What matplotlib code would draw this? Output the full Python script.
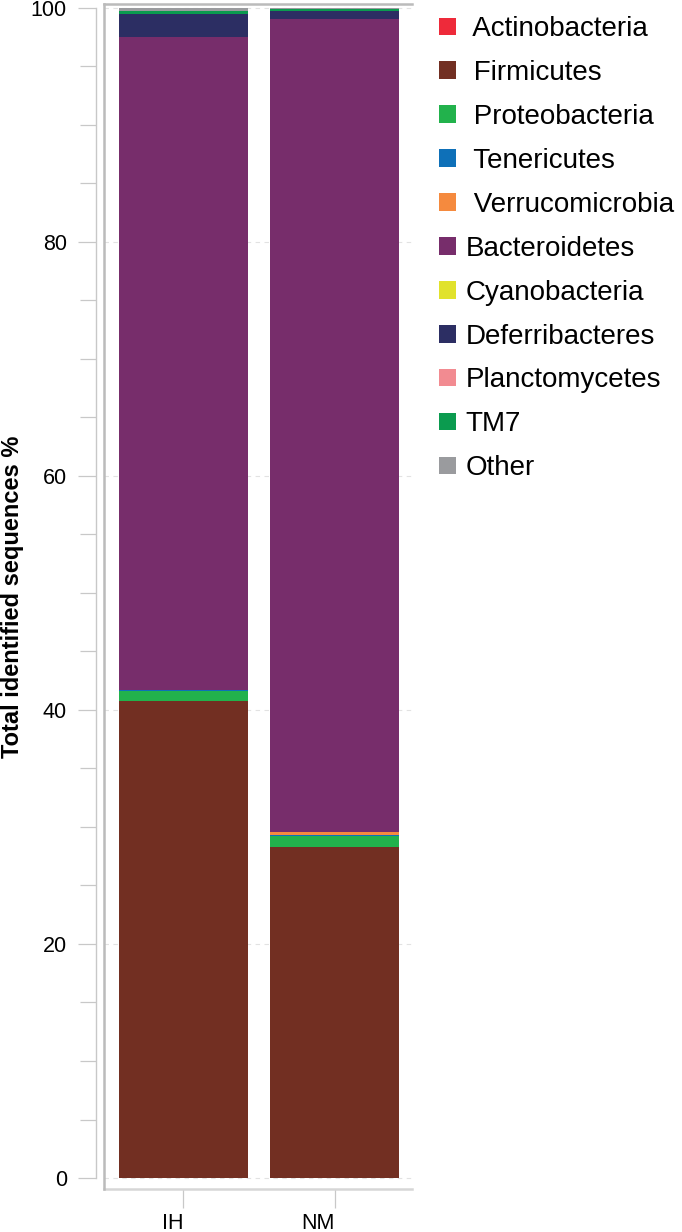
import numpy as np
import matplotlib.pyplot as plt
from matplotlib.ticker import MultipleLocator

plt.rcParams['font.family'] = ['Liberation Sans', 'DejaVu Sans']

# sample groups and phyla (stacking order, bottom to top)
samples = ["IH", "NM"]
phyla = ["Actinobacteria", "Firmicutes", "Proteobacteria", "Tenericutes",
         "Verrucomicrobia", "Bacteroidetes", "Cyanobacteria", "Deferribacteres",
         "Planctomycetes", "TM7", "Other"]
colors = ["#ee2a3a", "#722f22", "#22b24c", "#0e70b8", "#f58a3e", "#772d6b",
          "#e1e22c", "#2c2e63", "#f28b91", "#0b9b4f", "#9a9b9e"]

# relative abundance (%) per phylum, [IH, NM]
actinobacteria = [0.0, 0.0]
firmicutes = [40.8, 28.3]
proteobacteria = [0.85, 0.95]
tenericutes = [0.08, 0.03]
verrucomicrobia = [0.02, 0.25]
bacteroidetes = [55.8, 69.5]
cyanobacteria = [0.0, 0.0]
deferribacteres = [1.92, 0.72]
planctomycetes = [0.0, 0.0]
tm7 = [0.23, 0.14]
other = [0.3, 0.11]

values = [actinobacteria, firmicutes, proteobacteria, tenericutes, verrucomicrobia,
          bacteroidetes, cyanobacteria, deferribacteres, planctomycetes, tm7, other]

W, H = 682, 1232
fig = plt.figure(figsize=(W / 100, H / 100), dpi=100)
ax = fig.add_axes([104 / W, 1 - 1189 / H, (412 - 104) / W, (1189 - 4) / H])

x = np.arange(len(samples))
bottom = np.zeros(len(samples))
handles = []
for name, vals, c in zip(phyla, values, colors):
    b = ax.bar(x, vals, width=0.854, bottom=bottom, color=c, label=name, zorder=3)
    handles.append(b)
    bottom += np.array(vals)

ax.set_xlim(-0.526, 1.513)
ax.set_ylim(-0.94, 100.34)

grey = "#c8c8c8"
# y axis: detached light spine with ticks
ax.spines['left'].set_position(('outward', 5.8))
ax.spines['left'].set_bounds(0, 100)
ax.spines['left'].set_color(grey)
ax.spines['left'].set_linewidth(1.0)
ax.spines['right'].set_visible(False)
ax.spines['top'].set_color("#bbbbbb")
ax.spines['top'].set_linewidth(1.8)
ax.spines['bottom'].set_color("#d6d6d6")
ax.spines['bottom'].set_linewidth(1.8)
# frame line at the left of the plotting area
ax.plot([0, 0], [0, 1], transform=ax.transAxes, color="#bbbbbb", lw=1.8,
        clip_on=False, zorder=4)

ax.yaxis.set_major_locator(MultipleLocator(20))
ax.yaxis.set_minor_locator(MultipleLocator(5))
ax.tick_params(axis='y', which='major', length=13, width=0.9, color=grey,
               labelsize=15.5, pad=8)
ax.tick_params(axis='y', which='minor', length=11.5, width=0.9, color=grey)
ax.set_xticks(x)
ax.set_xticklabels(samples, ha='right')
ax.tick_params(axis='x', length=14, width=0.9, color=grey, labelsize=15.5, pad=3)

ax.grid(axis='y', which='major', linestyle=(0, (4, 4)), color="#e2e2e2",
        linewidth=0.8, zorder=0)
ax.set_ylabel("Total identified sequences %", fontsize=17, fontweight='bold')
ax.yaxis.set_label_coords((24 - 104) / 308, 0.5)

labels = [" " + p if i < 5 else p for i, p in enumerate(phyla)]
fig.legend(handles, labels, loc='upper left',
           bbox_to_anchor=(428 / W, 1 - 5 / H), frameon=False, fontsize=20,
           handlelength=0.6, handleheight=0.6, handletextpad=0.36,
           labelspacing=0.645, borderaxespad=0)

fig.savefig("out.png", dpi=100)
